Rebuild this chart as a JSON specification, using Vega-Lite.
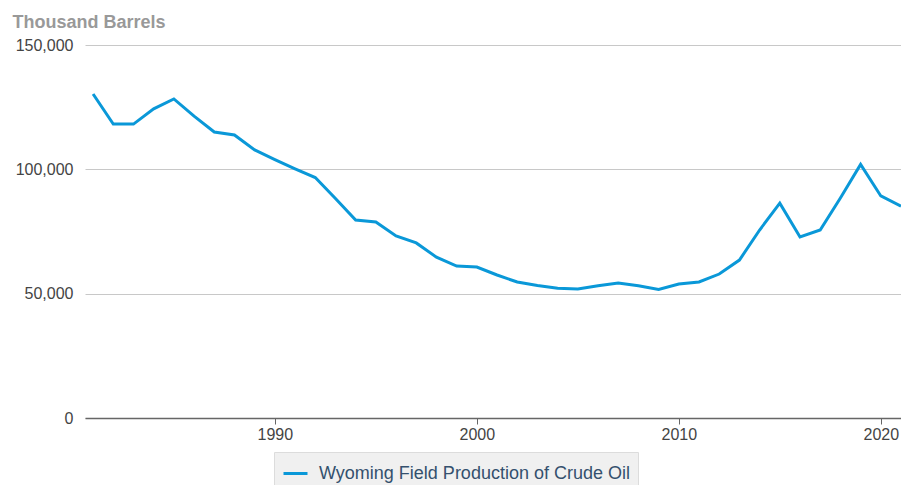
{
  "$schema": "https://vega.github.io/schema/vega-lite/v6.json",
  "width": 816,
  "height": 373,
  "autosize": {"type": "none"},
  "padding": {"left": 85, "top": 45, "right": 0, "bottom": 67},
  "background": "white",
  "config": {
    "view": {"stroke": null},
    "font": "Liberation Sans"
  },
  "data": {
    "values": [
      {"year": 1981, "value": 130.3, "series": "Wyoming Field Production of Crude Oil"},
      {"year": 1982, "value": 118.2, "series": "Wyoming Field Production of Crude Oil"},
      {"year": 1983, "value": 118.2, "series": "Wyoming Field Production of Crude Oil"},
      {"year": 1984, "value": 124.3, "series": "Wyoming Field Production of Crude Oil"},
      {"year": 1985, "value": 128.3, "series": "Wyoming Field Production of Crude Oil"},
      {"year": 1986, "value": 121.4, "series": "Wyoming Field Production of Crude Oil"},
      {"year": 1987, "value": 115.0, "series": "Wyoming Field Production of Crude Oil"},
      {"year": 1988, "value": 113.8, "series": "Wyoming Field Production of Crude Oil"},
      {"year": 1989, "value": 107.8, "series": "Wyoming Field Production of Crude Oil"},
      {"year": 1990, "value": 103.9, "series": "Wyoming Field Production of Crude Oil"},
      {"year": 1991, "value": 100.2, "series": "Wyoming Field Production of Crude Oil"},
      {"year": 1992, "value": 96.7, "series": "Wyoming Field Production of Crude Oil"},
      {"year": 1993, "value": 88.3, "series": "Wyoming Field Production of Crude Oil"},
      {"year": 1994, "value": 79.6, "series": "Wyoming Field Production of Crude Oil"},
      {"year": 1995, "value": 78.8, "series": "Wyoming Field Production of Crude Oil"},
      {"year": 1996, "value": 73.2, "series": "Wyoming Field Production of Crude Oil"},
      {"year": 1997, "value": 70.4, "series": "Wyoming Field Production of Crude Oil"},
      {"year": 1998, "value": 64.7, "series": "Wyoming Field Production of Crude Oil"},
      {"year": 1999, "value": 61.1, "series": "Wyoming Field Production of Crude Oil"},
      {"year": 2000, "value": 60.7, "series": "Wyoming Field Production of Crude Oil"},
      {"year": 2001, "value": 57.5, "series": "Wyoming Field Production of Crude Oil"},
      {"year": 2002, "value": 54.7, "series": "Wyoming Field Production of Crude Oil"},
      {"year": 2003, "value": 53.3, "series": "Wyoming Field Production of Crude Oil"},
      {"year": 2004, "value": 52.2, "series": "Wyoming Field Production of Crude Oil"},
      {"year": 2005, "value": 51.9, "series": "Wyoming Field Production of Crude Oil"},
      {"year": 2006, "value": 53.2, "series": "Wyoming Field Production of Crude Oil"},
      {"year": 2007, "value": 54.3, "series": "Wyoming Field Production of Crude Oil"},
      {"year": 2008, "value": 53.2, "series": "Wyoming Field Production of Crude Oil"},
      {"year": 2009, "value": 51.7, "series": "Wyoming Field Production of Crude Oil"},
      {"year": 2010, "value": 53.9, "series": "Wyoming Field Production of Crude Oil"},
      {"year": 2011, "value": 54.7, "series": "Wyoming Field Production of Crude Oil"},
      {"year": 2012, "value": 57.9, "series": "Wyoming Field Production of Crude Oil"},
      {"year": 2013, "value": 63.5, "series": "Wyoming Field Production of Crude Oil"},
      {"year": 2014, "value": 75.6, "series": "Wyoming Field Production of Crude Oil"},
      {"year": 2015, "value": 86.4, "series": "Wyoming Field Production of Crude Oil"},
      {"year": 2016, "value": 72.8, "series": "Wyoming Field Production of Crude Oil"},
      {"year": 2017, "value": 75.6, "series": "Wyoming Field Production of Crude Oil"},
      {"year": 2018, "value": 88.5, "series": "Wyoming Field Production of Crude Oil"},
      {"year": 2019, "value": 102.0, "series": "Wyoming Field Production of Crude Oil"},
      {"year": 2020, "value": 89.3, "series": "Wyoming Field Production of Crude Oil"},
      {"year": 2021, "value": 85.2, "series": "Wyoming Field Production of Crude Oil"}
    ]
  },
  "mark": {"type": "line", "strokeWidth": 3, "clip": true},
  "encoding": {
    "x": {
      "field": "year",
      "type": "quantitative",
      "scale": {"domain": [1980.6, 2021], "nice": false, "zero": false},
      "axis": {
        "title": null,
        "values": [1990, 2000, 2010, 2020],
        "format": "d",
        "grid": false,
        "domainColor": "#666",
        "domainWidth": 1.5,
        "tickColor": "#666",
        "tickSize": 6,
        "labelFontSize": 16,
        "labelColor": "#444",
        "labelPadding": 2
      }
    },
    "y": {
      "field": "value",
      "type": "quantitative",
      "scale": {"domain": [0, 150], "nice": false},
      "axis": {
        "values": [0, 50, 100, 150],
        "labelExpr": "format(datum.value * 1000, ',')",
        "domain": false,
        "ticks": false,
        "gridColor": "#c8c8c8",
        "gridWidth": 1,
        "labelFontSize": 16,
        "labelColor": "#444",
        "labelPadding": 12,
        "title": "Thousand Barrels",
        "titleAngle": 0,
        "titleAlign": "left",
        "titleBaseline": "alphabetic",
        "titleX": -73,
        "titleY": -18,
        "titleFontSize": 18,
        "titleFontWeight": "bold",
        "titleColor": "#999"
      }
    },
    "color": {
      "field": "series",
      "type": "nominal",
      "scale": {"domain": ["Wyoming Field Production of Crude Oil"], "range": ["#0a98d8"]},
      "legend": {
        "title": null,
        "orient": "none",
        "legendX": 189,
        "legendY": 407,
        "fillColor": "#f0f0f0",
        "strokeColor": "#dcdcdc",
        "padding": 8,
        "symbolType": "stroke",
        "symbolStrokeWidth": 3,
        "symbolSize": 576,
        "labelOffset": 10,
        "labelFontSize": 18,
        "labelColor": "#34506e",
        "labelLimit": 500
      }
    }
  }
}
